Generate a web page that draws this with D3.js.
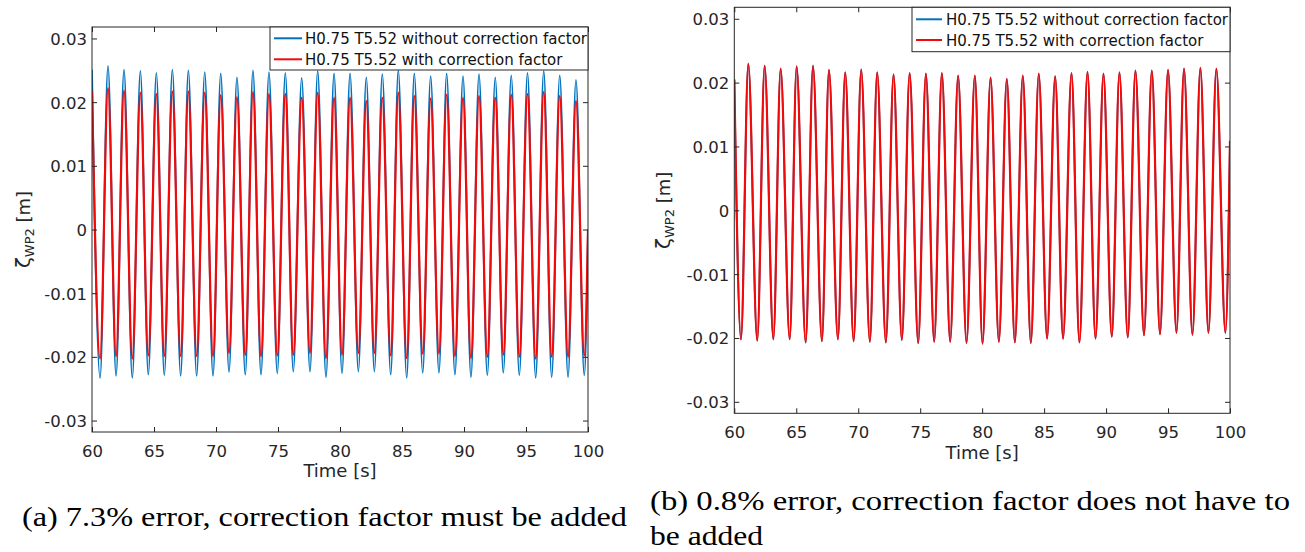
<!DOCTYPE html>
<html><head><meta charset="utf-8">
<script src="https://cdn.jsdelivr.net/npm/d3@7"></script>
<style>
body{margin:0;background:#fff;}
svg{display:block;font-family:"DejaVu Sans",sans-serif;}
.cap{font-family:"Liberation Serif";}
</style>
</head><body>
<svg id="c" width="1305" height="552"></svg>
<script>
// ---------- data ----------
const xTicks = [60,65,70,75,80,85,90,95,100];
const yTicks = [-0.03,-0.02,-0.01,0,0.01,0.02,0.03];
const yTickLabels = ["-0.03","-0.02","-0.01","0","0.01","0.02","0.03"];
const seriesNames = ["H0.75 T5.52 without correction factor","H0.75 T5.52 with correction factor"];
const captionA = ["(a) 7.3% error, correction factor must be added"];
const captionB = ["(b) 0.8% error, correction factor does not have to","be added"];

// panel (a): crest / trough times [s] and elevations [m]
const peakTimeA = [60.00,61.29,62.58,63.90,65.19,66.48,67.77,69.09,70.38,71.69,72.98,74.27,75.59,76.91,78.20,79.52,80.81,82.12,83.41,84.70,85.99,87.31,88.60,89.92,91.21,92.52,93.81,95.12,96.43,97.72,99.03];
const troughTimeA = [60.65,61.94,63.25,64.54,65.83,67.15,68.44,69.76,71.05,72.36,73.63,74.94,76.23,77.58,78.87,80.16,81.48,82.77,84.09,85.38,86.67,87.98,89.27,90.56,91.88,93.17,94.46,95.78,97.07,98.39,99.70];
const bluePeakA = [0.0251,0.0257,0.0251,0.0249,0.0246,0.0251,0.0250,0.0247,0.0245,0.0239,0.0250,0.0247,0.0246,0.0238,0.0249,0.0245,0.0245,0.0239,0.0244,0.0250,0.0245,0.0241,0.0245,0.0241,0.0244,0.0239,0.0242,0.0246,0.0249,0.0242,0.0235];
const redPeakA = [0.0217,0.0222,0.0218,0.0215,0.0213,0.0217,0.0217,0.0215,0.0211,0.0208,0.0216,0.0213,0.0213,0.0207,0.0215,0.0207,0.0207,0.0202,0.0207,0.0215,0.0210,0.0206,0.0212,0.0207,0.0210,0.0207,0.0212,0.0213,0.0216,0.0210,0.0202];
const blueTroughA = [-0.0233,-0.0230,-0.0233,-0.0228,-0.0229,-0.0230,-0.0230,-0.0230,-0.0224,-0.0228,-0.0228,-0.0226,-0.0223,-0.0223,-0.0232,-0.0226,-0.0223,-0.0223,-0.0228,-0.0233,-0.0225,-0.0225,-0.0228,-0.0232,-0.0229,-0.0225,-0.0229,-0.0233,-0.0232,-0.0232,-0.0229];
const redTroughA = [-0.0203,-0.0199,-0.0203,-0.0198,-0.0199,-0.0199,-0.0199,-0.0199,-0.0194,-0.0197,-0.0199,-0.0198,-0.0197,-0.0194,-0.0202,-0.0197,-0.0194,-0.0194,-0.0198,-0.0202,-0.0195,-0.0195,-0.0199,-0.0202,-0.0200,-0.0197,-0.0200,-0.0203,-0.0200,-0.0200,-0.0198];
const endA = {t:100, blue:0.0000, red:0.0000};

// panel (b)
const peakTimeB = [60.00,61.13,62.45,63.74,65.03,66.35,67.64,68.95,70.24,71.53,72.85,74.15,75.46,76.75,78.06,79.41,80.68,81.99,83.28,84.57,85.89,87.21,88.50,89.79,91.08,92.37,93.69,95.00,96.29,97.61,98.90];
const troughTimeB = [60.54,61.85,63.15,64.47,65.76,67.07,68.36,69.63,70.94,72.23,73.52,74.84,76.13,77.42,78.74,80.03,81.35,82.64,83.93,85.24,86.53,87.85,89.15,90.46,91.75,93.06,94.35,95.68,96.97,98.26,99.63];
const bluePeakB = [0.0205,0.0230,0.0227,0.0222,0.0226,0.0227,0.0220,0.0216,0.0221,0.0216,0.0213,0.0215,0.0214,0.0215,0.0211,0.0211,0.0208,0.0206,0.0211,0.0214,0.0210,0.0215,0.0217,0.0214,0.0216,0.0219,0.0219,0.0220,0.0222,0.0223,0.0222];
const redPeakB = [0.0205,0.0229,0.0226,0.0222,0.0225,0.0226,0.0220,0.0216,0.0220,0.0216,0.0213,0.0215,0.0214,0.0215,0.0211,0.0211,0.0208,0.0206,0.0211,0.0214,0.0210,0.0215,0.0217,0.0214,0.0216,0.0219,0.0219,0.0220,0.0222,0.0223,0.0222];
const blueTroughB = [-0.0202,-0.0204,-0.0202,-0.0202,-0.0207,-0.0205,-0.0202,-0.0205,-0.0206,-0.0207,-0.0203,-0.0208,-0.0206,-0.0206,-0.0208,-0.0209,-0.0206,-0.0207,-0.0208,-0.0201,-0.0201,-0.0207,-0.0201,-0.0198,-0.0199,-0.0196,-0.0194,-0.0192,-0.0195,-0.0192,-0.0192];
const redTroughB = [-0.0202,-0.0204,-0.0202,-0.0202,-0.0207,-0.0205,-0.0202,-0.0205,-0.0206,-0.0207,-0.0203,-0.0208,-0.0206,-0.0206,-0.0208,-0.0209,-0.0206,-0.0207,-0.0208,-0.0201,-0.0201,-0.0207,-0.0201,-0.0198,-0.0199,-0.0196,-0.0194,-0.0192,-0.0195,-0.0192,-0.0192];
const endB = {t:100, blue:0.0109, red:0.0109};

// ---------- helpers ----------
function buildSeries(pT, tT, pV, tV, endT, endV){
  const pts = [];
  for(let i=0;i<pT.length;i++){
    pts.push([pT[i], pV[i]]);
    if(i<tT.length) pts.push([tT[i], tV[i]]);
  }
  pts.push([endT, endV]);
  return pts;
}

const colors = ["#0072BD","#F00A0A"];
const widths = [1.8, 2.2];
const svg = d3.select("#c");
const axisColor = "#262626";

const panels = [
  {id:"a", left:92, right:588, top:27, bottom:432,
   series:[buildSeries(peakTimeA,troughTimeA,bluePeakA,blueTroughA,endA.t,endA.blue),
           buildSeries(peakTimeA,troughTimeA,redPeakA,redTroughA,endA.t,endA.red)],
   legend:{x0:270,x1:588,y0:27,y1:70,rows:[38.3,59.3],s0:274,s1:302,tx:305},
   ylabX:30, xlabY:477},
  {id:"b", left:734.3, right:1230, top:7.3, bottom:413.3,
   series:[buildSeries(peakTimeB,troughTimeB,bluePeakB,blueTroughB,endB.t,endB.blue),
           buildSeries(peakTimeB,troughTimeB,redPeakB,redTroughB,endB.t,endB.red)],
   legend:{x0:912,x1:1230,y0:7.3,y1:51.7,rows:[19.3,40],s0:916,s1:942,tx:946},
   ylabX:670, xlabY:458.6}
];

panels.forEach(p=>{
  const x = d3.scaleLinear().domain([60,100]).range([p.left,p.right]);
  const y = d3.scaleLinear().domain([-0.0318,0.0318]).range([p.bottom,p.top]);
  const g = svg.append("g");

  g.append("clipPath").attr("id","clip"+p.id)
    .append("rect").attr("x",p.left).attr("y",p.top)
    .attr("width",p.right-p.left).attr("height",p.bottom-p.top);

  const line = d3.line().x(d=>x(d[0])).y(d=>y(d[1])).curve(d3.curveMonotoneX);
  p.series.forEach((s,i)=>{
    g.append("path").datum(s).attr("d",line)
      .attr("fill","none").attr("stroke",colors[i]).attr("stroke-width",widths[i])
      .attr("stroke-linejoin","round")
      .attr("clip-path","url(#clip"+p.id+")");
  });

  const ax = (sel)=>{ sel.select(".domain").remove(); sel.selectAll("line").attr("stroke",axisColor); };
  const bottom = g.append("g").attr("transform",`translate(0,${p.bottom})`)
    .call(d3.axisBottom(x).tickValues(xTicks).tickSize(-5).tickFormat(d3.format("d")));
  ax(bottom);
  bottom.selectAll("text").attr("y",24.8).attr("dy",null)
    .attr("fill",axisColor).attr("font-size",16.5).attr("font-family","DejaVu Sans");
  const top = g.append("g").attr("transform",`translate(0,${p.top})`)
    .call(d3.axisTop(x).tickValues(xTicks).tickSize(-5).tickFormat(""));
  ax(top);
  const left = g.append("g").attr("transform",`translate(${p.left},0)`)
    .call(d3.axisLeft(y).tickValues(yTicks).tickSize(-5).tickFormat((d,i)=>yTickLabels[i]));
  ax(left);
  left.selectAll("text").attr("x",-5).attr("dy","0.36em")
    .attr("fill",axisColor).attr("font-size",16.5).attr("font-family","DejaVu Sans");
  const right = g.append("g").attr("transform",`translate(${p.right},0)`)
    .call(d3.axisRight(y).tickValues(yTicks).tickSize(-5).tickFormat(""));
  ax(right);

  g.append("rect").attr("x",p.left).attr("y",p.top)
    .attr("width",p.right-p.left).attr("height",p.bottom-p.top)
    .attr("fill","none").attr("stroke",axisColor).attr("stroke-width",1);

  g.append("text").attr("x",(p.left+p.right)/2).attr("y",p.xlabY)
    .attr("text-anchor","middle").attr("font-size",18).attr("fill",axisColor)
    .text("Time [s]");
  const yl = g.append("text")
    .attr("transform",`translate(${p.ylabX},${(p.top+p.bottom)/2}) rotate(-90)`)
    .attr("text-anchor","middle").attr("font-size",18).attr("fill",axisColor);
  yl.append("tspan").attr("font-size",20).text("ζ");
  yl.append("tspan").attr("font-size",13).attr("dy",4).text("WP2");
  yl.append("tspan").attr("dy",-4).text(" [m]");

  const L = p.legend;
  g.append("rect").attr("x",L.x0).attr("y",L.y0).attr("width",L.x1-L.x0).attr("height",L.y1-L.y0)
    .attr("fill","#fff").attr("stroke",axisColor).attr("stroke-width",1);
  seriesNames.forEach((n,i)=>{
    g.append("line").attr("x1",L.s0).attr("x2",L.s1).attr("y1",L.rows[i]).attr("y2",L.rows[i])
      .attr("stroke",colors[i]).attr("stroke-width",2);
    g.append("text").attr("x",L.tx).attr("y",L.rows[i]+5.8)
      .attr("font-size",15).attr("fill","#111").text(n);
  });
});

// captions
svg.append("text").attr("class","cap").attr("x",22).attr("y",526).attr("font-size",28)
  .attr("textLength",605).attr("lengthAdjust","spacingAndGlyphs").attr("fill","#000").text(captionA[0]);
svg.append("text").attr("class","cap").attr("x",650).attr("y",510).attr("font-size",28)
  .attr("textLength",640).attr("lengthAdjust","spacingAndGlyphs").attr("fill","#000").text(captionB[0]);
svg.append("text").attr("class","cap").attr("x",650).attr("y",545).attr("font-size",28)
  .attr("textLength",113).attr("lengthAdjust","spacingAndGlyphs").attr("fill","#000").text(captionB[1]);
</script>
</body></html>
